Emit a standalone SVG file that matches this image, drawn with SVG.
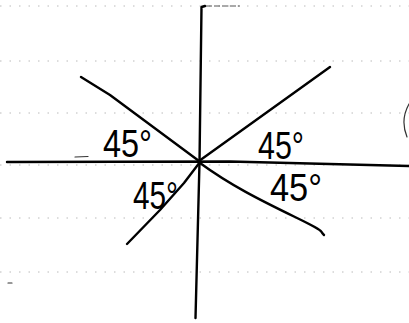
<svg xmlns="http://www.w3.org/2000/svg" width="409" height="323" viewBox="0 0 409 323">
  <style>
    .paper { stroke: #a8a8a8; stroke-width: 0.8; stroke-dasharray: 1.5 8; fill: none; }
    .ink { stroke: #000; stroke-width: 2.4; fill: none; stroke-linecap: round; stroke-linejoin: round; }
    .thin { stroke: #333; stroke-width: 1.2; fill: none; stroke-linecap: round; }
    .lbl { font-family: "Liberation Sans", "DejaVu Sans", sans-serif; font-size: 38px; fill: #000; }
  </style>
  <rect width="409" height="323" fill="#fff"/>
  <g id="paper-lines">
    <line class="paper" x1="0" y1="6" x2="409" y2="6"/>
    <line class="paper" x1="0" y1="61" x2="409" y2="61"/>
    <line class="paper" x1="0" y1="113" x2="409" y2="113"/>
    <line class="paper" x1="0" y1="165" x2="409" y2="165"/>
    <line class="paper" x1="0" y1="218" x2="409" y2="218"/>
    <line class="paper" x1="0" y1="272" x2="409" y2="272"/>
    <line x1="206" y1="6" x2="240" y2="6" stroke="#555" stroke-width="1" stroke-dasharray="6 2"/>
  </g>
  <g id="connectors">
    <path id="y-axis" class="ink" d="M205,6 L201.5,7 L199.5,162 L195.5,318"/>
    <path id="x-axis" class="ink" d="M7,162 L230,161.5 L409,166"/>
    <path id="ray-ul" class="ink" d="M81,77 L110,95 L199,161"/>
    <path id="ray-ur" class="ink" d="M199,161 L330,67"/>
    <path id="ray-ll" class="ink" d="M200,162 L184,183 L160,210 L127,244"/>
    <path id="ray-lr" class="ink" d="M200,163 C230,185 260,200 295,217 S318,230 324,235"/>
  </g>
  <g id="marks">
    <path class="thin" d="M409,104 Q400,120 407,137"/>
    <line class="thin" x1="75" y1="157" x2="88" y2="156.5" stroke="#777"/>
    <line class="thin" x1="8" y1="283" x2="12" y2="283"/>
  </g>
  <g id="label-ul"><text class="lbl" x="103" y="157" textLength="49" lengthAdjust="spacingAndGlyphs">45°</text></g>
  <g id="label-ur"><text class="lbl" x="258" y="159" textLength="46" lengthAdjust="spacingAndGlyphs">45°</text></g>
  <g id="label-ll"><text class="lbl" x="133" y="209" textLength="45" lengthAdjust="spacingAndGlyphs">45°</text></g>
  <g id="label-lr"><text class="lbl" x="270" y="201" textLength="52" lengthAdjust="spacingAndGlyphs">45°</text></g>
</svg>
